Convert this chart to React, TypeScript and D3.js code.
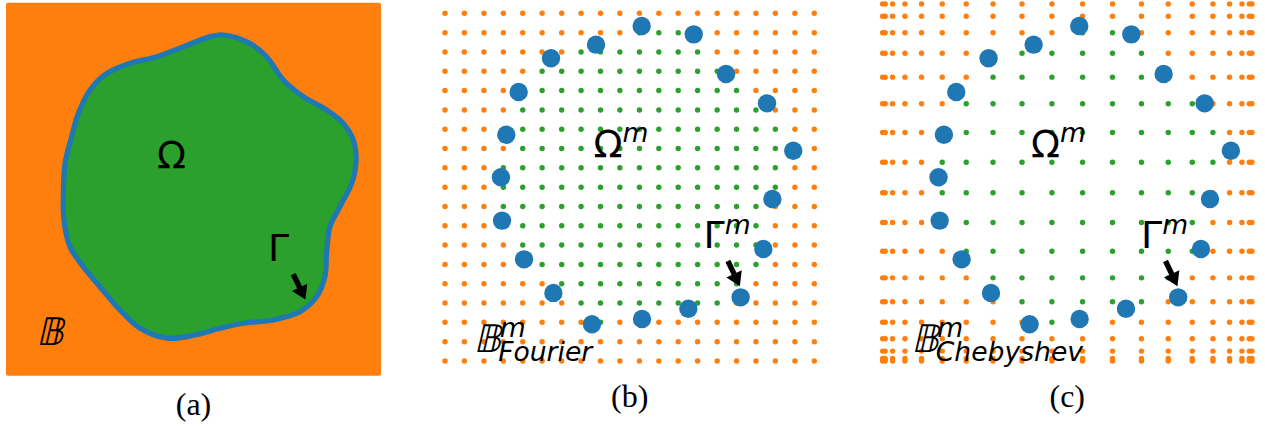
import React from 'react';
import * as d3 from 'd3';

// Grid nodes on [-1, 1]
const fourierNodes = [-1, -0.895, -0.789, -0.684, -0.579, -0.474, -0.368, -0.263, -0.158, -0.053,
  0.053, 0.158, 0.263, 0.368, 0.474, 0.579, 0.684, 0.789, 0.895, 1];
const chebyshevNodes = [-1, -0.986, -0.946, -0.879, -0.789, -0.677, -0.547, -0.402, -0.245, -0.083,
  0.083, 0.245, 0.402, 0.547, 0.677, 0.789, 0.879, 0.946, 0.986, 1];

// Smooth boundary Γ
const boundaryX = [0.088, 0.159, 0.301, 0.390, 0.479, 0.586, 0.710, 0.799, 0.852, 0.867, 0.844, 0.781,
  0.728, 0.710, 0.701, 0.657, 0.568, 0.426, 0.266, 0.141, 0.008, -0.143, -0.285, -0.392, -0.499,
  -0.588, -0.659, -0.691, -0.694, -0.685, -0.650, -0.614, -0.552, -0.463, -0.339, -0.196, -0.054];
const boundaryY = [0.818, 0.827, 0.782, 0.710, 0.586, 0.496, 0.425, 0.353, 0.264, 0.156, 0.032, -0.094,
  -0.201, -0.344, -0.469, -0.576, -0.657, -0.701, -0.719, -0.746, -0.782, -0.799, -0.746, -0.648, -0.523,
  -0.416, -0.308, -0.165, -0.022, 0.139, 0.282, 0.407, 0.532, 0.621, 0.675, 0.710, 0.764];

// Discrete boundary nodes Γ^m
const gammaX = [0.065, 0.347, 0.522, 0.744, 0.886, 0.773, 0.724, 0.601, 0.318, 0.067, -0.204,
  -0.413, -0.572, -0.691, -0.697, -0.668, -0.601, -0.426, -0.182];
const gammaY = [0.826, 0.780, 0.564, 0.404, 0.146, -0.117, -0.390, -0.653, -0.715, -0.771, -0.800,
  -0.629, -0.446, -0.235, 0.001, 0.233, 0.466, 0.650, 0.724];

const captions = ['(a)', '(b)', '(c)'];
const subLabels = ['Fourier', 'Chebyshev'];

const C0 = '#1f77b4';
const C1 = '#ff7f0e';
const C2 = '#2ca02c';
const MATH = "'DejaVu Sans', sans-serif";
const MAIN = 38;
const SUP = 26.6;

function Arrow({ sx, sy }: { sx: (v: number) => number; sy: (v: number) => number }) {
  const ax = sx(0.532), ay = sy(-0.455);
  const tx = sx(0.597), ty = sy(-0.592);
  const dx = tx - ax, dy = ty - ay;
  const L = Math.hypot(dx, dy);
  const ux = dx / L, uy = dy / L;
  const nx = -uy, ny = ux;
  const w = 2.7, hw = 8.5, hl = 13.5;
  const bx = tx - ux * hl, by = ty - uy * hl;
  const pts = [
    [ax + nx * w, ay + ny * w],
    [bx + nx * w, by + ny * w],
    [bx + nx * hw, by + ny * hw],
    [tx, ty],
    [bx - nx * hw, by - ny * hw],
    [bx - nx * w, by - ny * w],
    [ax - nx * w, ay - ny * w],
  ];
  return <path d={'M' + pts.map(p => p.join(',')).join('L') + 'Z'} fill="black" />;
}

function BB({ x, y }: { x: number; y: number }) {
  return (
    <text transform={`translate(${x},${y}) skewX(-13)`} fontFamily={MATH} fontSize={MAIN}>𝔹</text>
  );
}

function GridPanel({ nodes, sx, sy, sub, caption }: any) {
  const boundary = boundaryX.map((x, i) => [x, boundaryY[i]] as [number, number]);
  const pts: { x: number; y: number; inside: boolean }[] = [];
  nodes.forEach((x: number) => nodes.forEach((y: number) => {
    pts.push({ x, y, inside: d3.polygonContains(boundary, [x, y]) });
  }));
  return (
    <g>
      {pts.map((p, i) => (
        <circle key={i} cx={sx(p.x)} cy={sy(p.y)} r={2.7} fill={p.inside ? C2 : C1} />
      ))}
      {gammaX.map((x, i) => (
        <circle key={'g' + i} cx={sx(x)} cy={sy(gammaY[i])} r={9.2} fill={C0} />
      ))}
      <text x={sx(-0.196)} y={sy(0.112)} fontFamily={MATH} fontSize={MAIN}>
        Ω<tspan fontStyle="italic" fontSize={SUP} dy={-14.5}>m</tspan>
      </text>
      <text x={sx(0.40)} y={sy(-0.386)} fontFamily={MATH} fontSize={MAIN}>
        Γ<tspan fontStyle="italic" fontSize={SUP} dy={-14.5}>m</tspan>
      </text>
      <Arrow sx={sx} sy={sy} />
      <BB x={sx(-0.845)} y={sy(-0.949)} />
      <text x={sx(-0.704)} y={sy(-0.868)} fontFamily={MATH} fontSize={SUP} fontStyle="italic">m</text>
      <text x={sx(-0.712)} y={sy(-1.0)} fontFamily={MATH} fontSize={SUP} fontStyle="italic">{sub}</text>
      <text x={sx(0)} y={sy(-1) + 46} fontFamily="'Liberation Serif', serif" fontSize={32} textAnchor="middle">{caption}</text>
    </g>
  );
}

export default function App() {
  const xA = d3.scaleLinear().domain([-1, 1]).range([6, 381]);
  const yA = d3.scaleLinear().domain([-1, 1]).range([375.7, 2.7]);
  const xB = d3.scaleLinear().domain([-1, 1]).range([445, 814.3]);
  const yB = d3.scaleLinear().domain([-1, 1]).range([361, -6]);
  const xC = d3.scaleLinear().domain([-1, 1]).range([882.6, 1251.9]);

  const boundary = boundaryX.map((x, i) => [x, boundaryY[i]] as [number, number]);
  const blob = d3.line<[number, number]>()
    .x(d => xA(d[0])).y(d => yA(d[1]))
    .curve(d3.curveCatmullRomClosed.alpha(0.5));

  return (
    <svg width={1265} height={427} style={{ position: 'absolute', left: 0, top: 0, background: 'white' }}>
      {/* Panel (a) */}
      <rect x={xA(-1)} y={yA(1)} width={xA(1) - xA(-1)} height={yA(-1) - yA(1)} fill={C1} rx={2} />
      <path d={blob(boundary) || ''} fill={C2} stroke={C0} strokeWidth={5.2} />
      <text x={xA(-0.195)} y={yA(0.112)} fontFamily={MATH} fontSize={MAIN}>Ω</text>
      <text x={xA(0.397)} y={yA(-0.384)} fontFamily={MATH} fontSize={MAIN}>Γ</text>
      <Arrow sx={xA} sy={yA} />
      <BB x={xA(-0.84)} y={yA(-0.835)} />
      <text x={xA(0)} y={yA(-1) + 39.3} fontFamily="'Liberation Serif', serif" fontSize={32} textAnchor="middle">{captions[0]}</text>

      {/* Panel (b) */}
      <GridPanel nodes={fourierNodes} sx={xB} sy={yB} sub={subLabels[0]} caption={captions[1]} />
      {/* Panel (c) */}
      <GridPanel nodes={chebyshevNodes} sx={xC} sy={yB} sub={subLabels[1]} caption={captions[2]} />
    </svg>
  );
}
